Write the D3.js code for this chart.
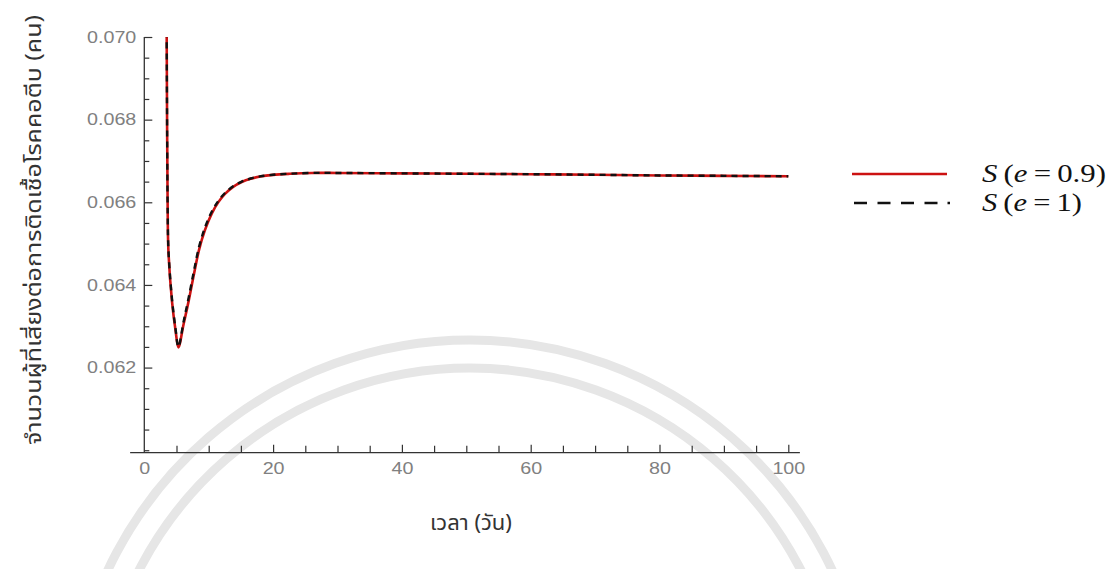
<!DOCTYPE html>
<html>
<head>
<meta charset="utf-8">
<script src="https://cdn.jsdelivr.net/npm/d3@7"></script>
<style>
  html, body { margin: 0; padding: 0; background: #fff; }
  svg { display: block; }
</style>
</head>
<body>
<svg id="chart" width="1114" height="569"></svg>
<script>
// ---- data ----
const time  = [3.45, 3.52, 3.62, 3.75, 4.3, 4.85, 5.3, 6.1, 6.9, 7.7, 8.5, 9.4, 10.47, 11.5, 12.53, 13.8, 15.12, 16.5, 17.97, 20, 22.6, 26, 30, 40, 50, 60, 70, 80, 90, 100];
const S_e09 = [0.0712, 0.0685, 0.0660, 0.06480, 0.06360, 0.06290, 0.06249, 0.06305, 0.06362, 0.06425, 0.06485, 0.06532, 0.065727, 0.066004, 0.066204, 0.066374, 0.066491, 0.066570, 0.066623, 0.066664, 0.066690, 0.066710, 0.066710, 0.066700, 0.066690, 0.066680, 0.066665, 0.066650, 0.066640, 0.066630];
const S_e1  = [0.0712, 0.0685, 0.0660, 0.06485, 0.06366, 0.06294, 0.06250, 0.06311, 0.06370, 0.06433, 0.06492, 0.06538, 0.065770, 0.066035, 0.066225, 0.066388, 0.066500, 0.066576, 0.066627, 0.066666, 0.066692, 0.066710, 0.066710, 0.066700, 0.066690, 0.066680, 0.066665, 0.066650, 0.066640, 0.066630];
const xMajorTicks = [0, 20, 40, 60, 80, 100];
const yMajorTicks = [0.062, 0.064, 0.066, 0.068, 0.070];
const xTitle = "เวลา (วัน)";
const yTitle = "จำนวนผู้ที่เสี่ยงต่อการติดเชื้อโรคคอตีบ (คน)";

// ---- layout ----
const svg = d3.select("#chart");
const x = d3.scaleLinear().domain([0, 100]).range([144.3, 788.3]);
const y = d3.scaleLinear().domain([0.05994, 0.070]).range([452.7, 37]);

// ---- faint watermark arcs ----
const wm = svg.append("g").attr("fill", "none").attr("stroke", "#e6e6e6").attr("stroke-width", 9);
[400, 372].forEach(r => {
  wm.append("path")
    .attr("transform", "translate(470,740)")
    .attr("d", d3.arc()({innerRadius: r, outerRadius: r, startAngle: -Math.PI / 2.2, endAngle: Math.PI / 2.2}));
});

// ---- axes ----
const axisColor = "#333";
const labelColor = "#808080";
const stretch = 1.23;

svg.append("line")
  .attr("x1", x(-2.2)).attr("x2", x(101.8))
  .attr("y1", y(0.05994)).attr("y2", y(0.05994))
  .attr("stroke", axisColor).attr("stroke-width", 1.3);
svg.append("line")
  .attr("x1", x(0)).attr("x2", x(0))
  .attr("y1", y(0.05994)).attr("y2", y(0.070))
  .attr("stroke", axisColor).attr("stroke-width", 1.3);

const xMinor = d3.range(5, 101, 5).filter(v => !xMajorTicks.includes(v));
const yMinor = d3.range(0.0600, 0.07001, 0.0005).filter(v => !yMajorTicks.some(t => Math.abs(t - v) < 1e-9));

const gx = svg.append("g").attr("transform", `translate(0,${y(0.05994)})`)
  .call(d3.axisBottom(x).tickValues(xMajorTicks).tickSize(-8).tickPadding(10).tickFormat(d3.format("d")));
const gxm = svg.append("g").attr("transform", `translate(0,${y(0.05994)})`)
  .call(d3.axisBottom(x).tickValues(xMinor).tickSize(-7).tickFormat(""));
const gy = svg.append("g").attr("transform", `translate(${x(0)},0)`)
  .call(d3.axisLeft(y).tickValues(yMajorTicks).tickSize(-8).tickPadding(8).tickFormat(d3.format(".3f")));
const gym = svg.append("g").attr("transform", `translate(${x(0)},0)`)
  .call(d3.axisLeft(y).tickValues(yMinor).tickSize(-5).tickFormat(""));

[gx, gxm, gy, gym].forEach(g => {
  g.select(".domain").remove();
  g.selectAll(".tick line").attr("stroke", axisColor).attr("stroke-width", 1.2);
  g.selectAll(".tick text")
    .attr("fill", labelColor)
    .attr("font-family", "'Liberation Sans', Arial, sans-serif")
    .attr("font-size", 16);
});
gx.select(".tick line").remove();
[gx, gy].forEach(g => g.selectAll(".tick text").each(function () {
  const w = this.getComputedTextLength();
  d3.select(this).attr("textLength", w * stretch).attr("lengthAdjust", "spacingAndGlyphs");
}));

// ---- curves ----
const clip = svg.append("clipPath").attr("id", "plotclip");
clip.append("rect").attr("x", x(0)).attr("y", y(0.070)).attr("width", x(101) - x(0)).attr("height", y(0.05994) - y(0.070));

const line = d3.line().x(d => x(d[0])).y(d => y(d[1])).curve(d3.curveCatmullRom.alpha(0.5));
const plot = svg.append("g").attr("clip-path", "url(#plotclip)");
plot.append("path")
  .datum(time.map((t, i) => [t, S_e09[i]]))
  .attr("d", line).attr("fill", "none")
  .attr("stroke", "#cc1111").attr("stroke-width", 2.6);
plot.append("path")
  .datum(time.map((t, i) => [t, S_e1[i]]))
  .attr("d", line).attr("fill", "none")
  .attr("stroke", "#111").attr("stroke-width", 2.4)
  .attr("stroke-dasharray", "6,5");

// ---- legend ----
const legend = svg.append("g");
const lx0 = 852, lx1 = 947, ly = [174, 203];
legend.append("line").attr("x1", lx0).attr("x2", lx1).attr("y1", ly[0]).attr("y2", ly[0])
  .attr("stroke", "#cc1111").attr("stroke-width", 2.6);
legend.append("line").attr("x1", lx0 + 2).attr("x2", lx1 + 4).attr("y1", ly[1]).attr("y2", ly[1])
  .attr("stroke", "#111").attr("stroke-width", 2.6).attr("stroke-dasharray", "13,10.5,13,10.5,13,10.5,13,10,2.5,30");

const legendText = (yy, parts, len) => {
  const t = legend.append("text")
    .attr("x", 982).attr("y", yy + 8)
    .attr("font-family", "'Liberation Serif', 'Times New Roman', serif")
    .attr("font-size", 25).attr("fill", "#111")
    .attr("textLength", len).attr("lengthAdjust", "spacingAndGlyphs");
  parts.forEach(p => t.append("tspan").attr("font-style", p[1] ? "italic" : "normal").text(p[0]));
};
legendText(ly[0], [["S", 1], ["\u2009(", 0], ["e", 1], ["\u2009=\u20090.9)", 0]], 124);
legendText(ly[1], [["S", 1], ["\u2009(", 0], ["e", 1], ["\u2009=\u20091)", 0]], 100);

// ---- titles ----
svg.append("text")
  .attr("x", 471).attr("y", 530)
  .attr("text-anchor", "middle")
  .attr("font-family", "'Noto Sans Thai', 'Noto Sans', 'DejaVu Sans', sans-serif")
  .attr("font-size", 22).attr("fill", "#333")
  .text(xTitle);
svg.append("text")
  .attr("transform", "translate(41,230) rotate(-90)")
  .attr("text-anchor", "middle")
  .attr("font-family", "'Noto Sans Thai', 'Noto Sans', 'DejaVu Sans', sans-serif")
  .attr("font-size", 21).attr("fill", "#333")
  .attr("textLength", 430).attr("lengthAdjust", "spacingAndGlyphs")
  .text(yTitle);
</script>
</body>
</html>
